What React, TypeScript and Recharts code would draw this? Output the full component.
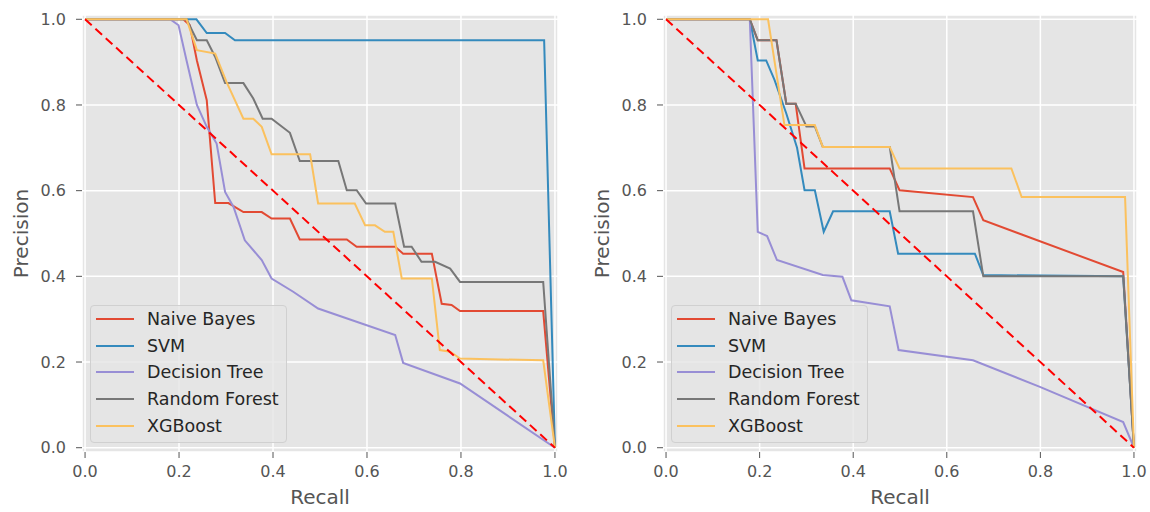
import { CartesianGrid, Label, Legend, Line, LineChart, XAxis, YAxis } from "recharts"

type Pt = [number, number]

const modelNames = ["Naive Bayes", "SVM", "Decision Tree", "Random Forest", "XGBoost"]
const modelColors = ["#E24A33", "#348ABD", "#988ED5", "#777777", "#FBC15E"]
const tickValues = [0, 0.2, 0.4, 0.6, 0.8, 1.0]
const chanceLine: Pt[] = [[0, 1], [1, 0]]

// left panel: [recall, precision]
const leftNaiveBayes: Pt[] = [
  [0, 1], [0.209, 1], [0.223, 0.986], [0.238, 0.904], [0.259, 0.811], [0.277, 0.571], [0.305, 0.571],
  [0.337, 0.55], [0.376, 0.55], [0.397, 0.535], [0.436, 0.535], [0.457, 0.486], [0.557, 0.486],
  [0.578, 0.469], [0.66, 0.469], [0.677, 0.453], [0.738, 0.453], [0.759, 0.336], [0.78, 0.333],
  [0.798, 0.319], [0.975, 0.319], [1, 0],
]
const leftSvm: Pt[] = [
  [0, 1], [0.237, 1], [0.259, 0.968], [0.298, 0.968], [0.319, 0.951], [0.977, 0.951], [1, 0],
]
const leftDecisionTree: Pt[] = [
  [0, 1], [0.181, 1], [0.199, 0.986], [0.216, 0.904], [0.238, 0.8], [0.259, 0.749], [0.28, 0.71],
  [0.298, 0.597], [0.316, 0.562], [0.34, 0.484], [0.376, 0.438], [0.397, 0.395], [0.443, 0.364],
  [0.496, 0.325], [0.66, 0.263], [0.677, 0.198], [0.798, 0.15], [1, 0],
]
const leftRandomForest: Pt[] = [
  [0, 1], [0.216, 1], [0.238, 0.951], [0.259, 0.951], [0.277, 0.912], [0.298, 0.851], [0.337, 0.851],
  [0.358, 0.815], [0.378, 0.768], [0.397, 0.768], [0.436, 0.735], [0.457, 0.669], [0.539, 0.669],
  [0.557, 0.601], [0.578, 0.601], [0.598, 0.57], [0.66, 0.57], [0.679, 0.469], [0.695, 0.469],
  [0.716, 0.434], [0.745, 0.434], [0.777, 0.418], [0.798, 0.387], [0.975, 0.387], [1, 0],
]
const leftXgboost: Pt[] = [
  [0, 1], [0.216, 1], [0.238, 0.928], [0.277, 0.92], [0.301, 0.854], [0.337, 0.768], [0.358, 0.768],
  [0.376, 0.749], [0.397, 0.685], [0.479, 0.685], [0.496, 0.57], [0.574, 0.57], [0.596, 0.519],
  [0.617, 0.519], [0.638, 0.504], [0.656, 0.504], [0.674, 0.395], [0.738, 0.395], [0.755, 0.228],
  [0.777, 0.224], [0.798, 0.208], [0.975, 0.204], [1, 0],
]

// right panel
const rightNaiveBayes: Pt[] = [
  [0, 1], [0.179, 1], [0.196, 0.951], [0.236, 0.951], [0.257, 0.803], [0.277, 0.803], [0.296, 0.652],
  [0.478, 0.652], [0.499, 0.601], [0.656, 0.585], [0.678, 0.531], [0.977, 0.41], [1, 0],
]
const rightSvm: Pt[] = [
  [0, 1], [0.179, 1], [0.196, 0.904], [0.214, 0.904], [0.232, 0.858], [0.257, 0.78], [0.28, 0.7],
  [0.296, 0.601], [0.318, 0.601], [0.337, 0.504], [0.357, 0.552], [0.478, 0.552], [0.496, 0.453],
  [0.66, 0.453], [0.678, 0.403], [0.977, 0.4], [1, 0],
]
const rightDecisionTree: Pt[] = [
  [0, 1], [0.179, 1], [0.196, 0.504], [0.216, 0.494], [0.237, 0.438], [0.335, 0.403], [0.377, 0.399],
  [0.396, 0.344], [0.478, 0.33], [0.497, 0.228], [0.656, 0.204], [0.799, 0.142], [0.977, 0.06], [1, 0],
]
const rightRandomForest: Pt[] = [
  [0, 1], [0.179, 1], [0.196, 0.951], [0.236, 0.951], [0.257, 0.803], [0.277, 0.803], [0.3, 0.75],
  [0.318, 0.75], [0.335, 0.702], [0.478, 0.702], [0.499, 0.552], [0.656, 0.552], [0.678, 0.4],
  [0.977, 0.4], [1, 0],
]
const rightXgboost: Pt[] = [
  [0, 1], [0.218, 1], [0.253, 0.753], [0.318, 0.753], [0.335, 0.702], [0.478, 0.702], [0.499, 0.652],
  [0.738, 0.652], [0.76, 0.585], [0.981, 0.585], [1, 0],
]

const leftCurves = [leftNaiveBayes, leftSvm, leftDecisionTree, leftRandomForest, leftXgboost]
const rightCurves = [rightNaiveBayes, rightSvm, rightDecisionTree, rightRandomForest, rightXgboost]

const toRows = (pts: Pt[]) => pts.map(([recall, precision]) => ({ recall, precision }))

function LegendBox() {
  return (
    <div
      style={{
        width: 197,
        height: 138,
        boxSizing: "border-box",
        background: "rgba(229,229,229,0.8)",
        border: "1px solid #D0D0D0",
        borderRadius: 4,
        position: "relative",
        fontFamily: "DejaVu Sans",
        fontSize: 17.5,
        color: "#262626",
      }}
    >
      {modelNames.map((name, i) => (
        <div key={name} style={{ position: "absolute", left: 0, top: 12.7 + i * 26.8 - 10, height: 20, display: "flex", alignItems: "center" }}>
          <div style={{ marginLeft: 5, width: 38, height: 2, background: modelColors[i] }} />
          <span style={{ marginLeft: 13, whiteSpace: "nowrap" }}>{name}</span>
        </div>
      ))}
    </div>
  )
}

function PrecisionLabel(props: any) {
  const vb = props.viewBox || {}
  const cx = (vb.x ?? 0) + 21
  const cy = (vb.y ?? 15) + (vb.height ?? 437) / 2
  return (
    <text x={cx} y={cy} transform={`rotate(-90 ${cx} ${cy})`} textAnchor="middle" dominantBaseline="central" fill="#555555" fontSize={20}>
      Precision
    </text>
  )
}

function PrPanel({ curves, left, width, marginRight }: { curves: Pt[][]; left: number; width: number; marginRight: number }) {
  return (
    <div style={{ position: "absolute", left, top: 0 }}>
      <LineChart width={width} height={512} margin={{ top: 15, right: marginRight, bottom: 0, left: 0 }}>
        <CartesianGrid fill="#E5E5E5" stroke="#FFFFFF" strokeWidth={1.5} />
        <XAxis
          type="number"
          dataKey="recall"
          domain={[-0.0065, 1.0065]}
          ticks={tickValues}
          interval={0}
          allowDataOverflow
          tickFormatter={(v: number) => v.toFixed(1)}
          height={60}
          axisLine={false}
          tickLine={{ stroke: "#555555" }}
          tickSize={6}
          tickMargin={8}
          tick={{ fill: "#555555", fontSize: 16 }}
        >
          <Label value="Recall" position="insideBottom" offset={8} fill="#555555" fontSize={20} />
        </XAxis>
        <YAxis
          type="number"
          dataKey="precision"
          domain={[-0.01, 1.01]}
          ticks={tickValues}
          interval={0}
          allowDataOverflow
          tickFormatter={(v: number) => v.toFixed(1)}
          width={82}
          axisLine={false}
          tickLine={{ stroke: "#555555" }}
          tickSize={6}
          tickMargin={10}
          tick={{ fill: "#555555", fontSize: 16 }}
        >
          <Label content={PrecisionLabel} />
        </YAxis>
        {curves.map((pts, i) => (
          <Line
            key={modelNames[i]}
            data={toRows(pts)}
            dataKey="precision"
            name={modelNames[i]}
            type="linear"
            stroke={modelColors[i]}
            strokeWidth={2}
            dot={false}
            activeDot={false}
            isAnimationActive={false}
          />
        ))}
        <Line
          data={toRows(chanceLine)}
          dataKey="precision"
          type="linear"
          stroke="#FF0000"
          strokeWidth={2}
          strokeDasharray="9 5"
          dot={false}
          activeDot={false}
          isAnimationActive={false}
        />
        <Legend
          layout="vertical"
          align="center"
          verticalAlign="middle"
          wrapperStyle={{ left: 90, top: 305, width: 197, height: 138 }}
          content={() => <LegendBox />}
        />
      </LineChart>
    </div>
  )
}

export default function App() {
  return (
    <div style={{ position: "absolute", left: 0, top: 0, width: 1150, height: 512, background: "#FFFFFF", fontFamily: "DejaVu Sans" }}>
      <PrPanel curves={leftCurves} left={0} width={580} marginRight={22} />
      <PrPanel curves={rightCurves} left={581} width={569} marginRight={13} />
    </div>
  )
}
